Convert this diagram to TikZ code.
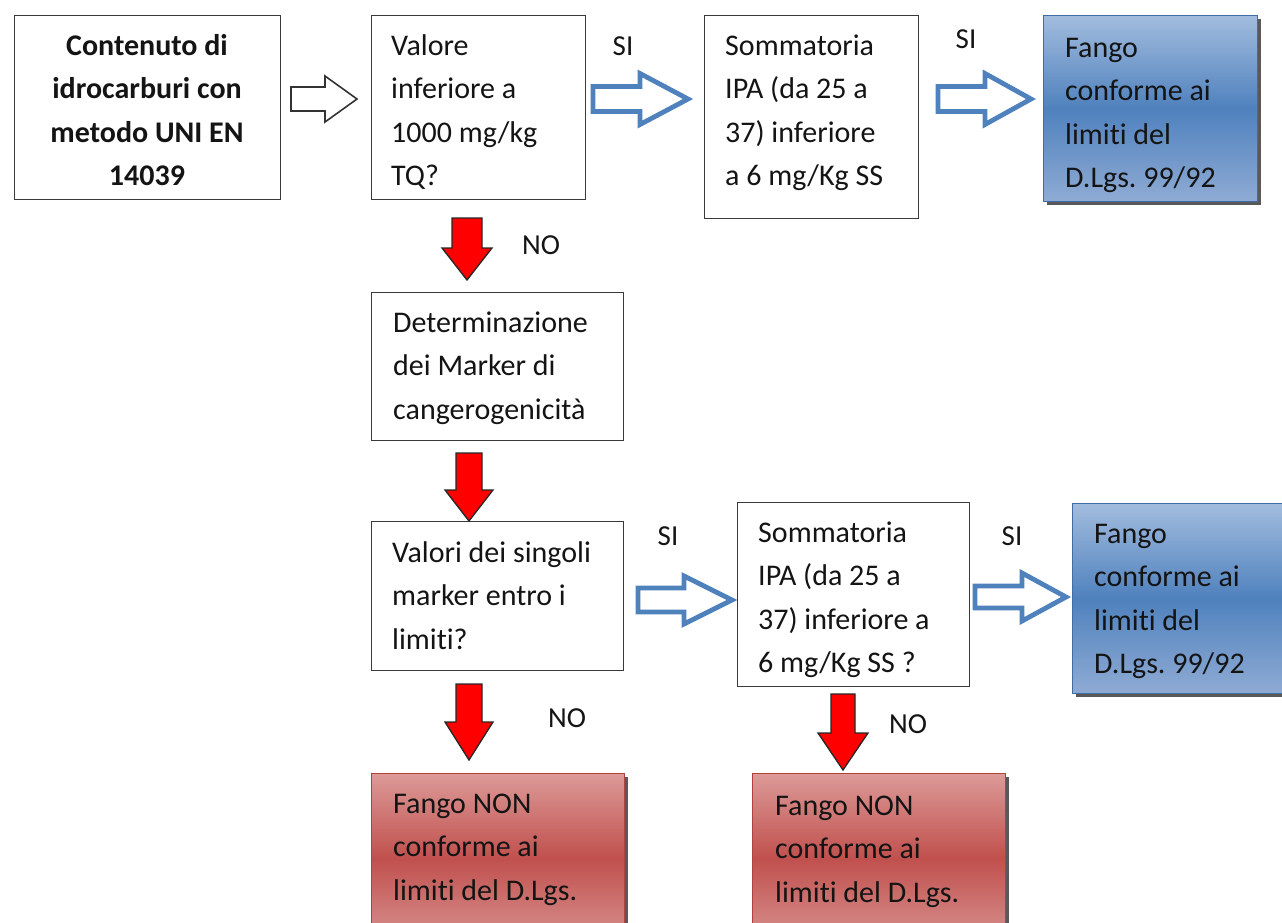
\documentclass[tikz,border=0pt]{standalone}
\usepackage{fontspec}
\setmainfont{Carlito}[RawFeature={-liga;-clig;-dlig;-calt}]
\frenchspacing
\definecolor{accblue}{HTML}{4F81BD}
\definecolor{blueedge}{HTML}{3F6DA6}
\definecolor{bluetop}{HTML}{A2BCDE}
\definecolor{bluemid}{HTML}{4F81BD}
\definecolor{bluebot}{HTML}{8FABD4}
\definecolor{redtop}{HTML}{DC9A98}
\definecolor{redmid}{HTML}{C0504D}
\definecolor{redbot}{HTML}{D89391}
\definecolor{rededge}{HTML}{B2403D}
\definecolor{boxline}{HTML}{3A3A3A}
\definecolor{txtcol}{HTML}{141414}
\newcommand\fst{\rule{0pt}{25pt}}
% right block arrow: x0, xhead, xtip, yc, shaft half, head half, style
\newcommand\BlkRight[7]{\draw[#7] (#1,{#4-#5}) -- (#2,{#4-#5}) -- (#2,{#4-#6}) -- (#3,#4) -- (#2,{#4+#6}) -- (#2,{#4+#5}) -- (#1,{#4+#5}) -- cycle;}
% down block arrow: xc, ytop, yhead, ytip, shaft half, head half
\newcommand\BlkDown[6]{\draw[redarrow] ({#1-#5},#2) -- ({#1+#5},#2) -- ({#1+#5},#3) -- ({#1+#6},#3) -- (#1,#4) -- ({#1-#6},#3) -- ({#1-#5},#3) -- cycle;}
\begin{document}
\begin{tikzpicture}[x=1pt,y=-1pt,
  box/.style={draw=boxline, line width=1.3pt, fill=white, anchor=north west, inner sep=0pt},
  bluebox/.style={draw=blueedge, line width=1.2pt, anchor=north west, inner sep=0pt, top color=bluetop, bottom color=bluebot, middle color=bluemid},
  redbox/.style={draw=rededge, line width=1.2pt, anchor=north west, inner sep=0pt, top color=redtop, bottom color=redbot, middle color=redmid},
  shadowbox/.style={fill=black!65, draw=none, anchor=north west, inner sep=0pt},
  txt/.style={inner sep=0pt, align=left, anchor=north west, text=txtcol, font=\fontsize{30}{43.5}\selectfont},
  lbl/.style={inner sep=0pt, text=txtcol, font=\fontsize{29}{34}\selectfont},
  bluearrow/.style={draw=accblue, line width=4.8pt, fill=white, line join=miter},
  whitearrow/.style={draw=black!80, line width=1.6pt, fill=white, line join=miter},
  redarrow/.style={draw=black!85, line width=1.3pt, fill=red, line join=miter},
]
\useasboundingbox (0,0) rectangle (1282,922);
\clip (0,0) rectangle (1282,922);

% boxes
\node[box, minimum width=266pt, minimum height=184pt] (a) at (14,15) {};
\node[txt, align=center, anchor=north, font=\bfseries\fontsize{30}{43.5}\selectfont] (at) at (147,30) {\fst Contenuto di\\idrocarburi con\\metodo UNI EN\\14039};

\node[box, minimum width=214pt, minimum height=184pt] (b) at (371,15) {};
\node[txt] (bt) at (391,30) {\fst Valore\\inferiore a\\1000 mg/kg\\TQ?};

\node[box, minimum width=214pt, minimum height=203pt] (c) at (704,15) {};
\node[txt] (ct) at (725,30) {\fst Sommatoria\\IPA (da 25 a\\37) inferiore\\a 6 mg/Kg SS};

\node[shadowbox, minimum width=214pt, minimum height=186pt] (ds) at (1047,19) {};
\node[bluebox, minimum width=214pt, minimum height=186pt] (d) at (1043,15) {};
\node[txt] (dt) at (1065,32) {\fst Fango\\conforme ai\\limiti del\\D.Lgs. 99/92};

\node[box, minimum width=252pt, minimum height=148pt] (e) at (371,292) {};
\node[txt] (et) at (393,307) {\fst Determinazione\\dei Marker di\\cangerogenicità};

\node[box, minimum width=252pt, minimum height=149pt] (f) at (371,521) {};
\node[txt] (ft) at (392,537) {\fst Valori dei singoli\\marker entro i\\limiti?};

\node[box, minimum width=232pt, minimum height=184pt] (g) at (737,502) {};
\node[txt] (gt) at (758,517) {\fst Sommatoria\\IPA (da 25 a\\37) inferiore a\\6 mg/Kg SS ?};

\node[shadowbox, minimum width=220pt, minimum height=190pt] (hs) at (1076,507) {};
\node[bluebox, minimum width=220pt, minimum height=190pt] (h) at (1072,503) {};
\node[txt] (ht) at (1094,518) {\fst Fango\\conforme ai\\limiti del\\D.Lgs. 99/92};

\node[shadowbox, minimum width=253pt, minimum height=170pt] (is) at (375,777) {};
\node[redbox, minimum width=253pt, minimum height=170pt] (i) at (371,773) {};
\node[txt] (it) at (393,788) {\fst Fango NON\\conforme ai\\limiti del D.Lgs.};

\node[shadowbox, minimum width=253pt, minimum height=170pt] (js) at (756,777) {};
\node[redbox, minimum width=253pt, minimum height=170pt] (j) at (752,773) {};
\node[txt] (jt) at (775,790) {\fst Fango NON\\conforme ai\\limiti del D.Lgs.};

% block arrows
\BlkRight{291}{325}{357}{99}{12}{23}{whitearrow}
\BlkRight{593}{640}{688}{99}{12.5}{25.5}{bluearrow}
\BlkRight{938}{985}{1031}{99}{12.5}{25.5}{bluearrow}
\BlkRight{638}{684}{732}{600}{12}{24}{bluearrow}
\BlkRight{975}{1022}{1066}{597}{11}{24}{bluearrow}

\BlkDown{467}{218}{248}{280}{15}{25}
\BlkDown{469}{453}{490}{521}{13}{24}
\BlkDown{469}{684}{722}{760}{13}{24}
\BlkDown{843}{694}{733}{770}{12}{25}

% labels
\node[lbl] (si1) at (623,46) {SI};
\node[lbl] (si2) at (966,39) {SI};
\node[lbl] (si3) at (668,536) {SI};
\node[lbl] (si4) at (1012,536) {SI};
\node[lbl] (no1) at (541,245) {NO};
\node[lbl] (no2) at (567,718) {NO};
\node[lbl] (no3) at (908,724) {NO};
\end{tikzpicture}
\end{document}
